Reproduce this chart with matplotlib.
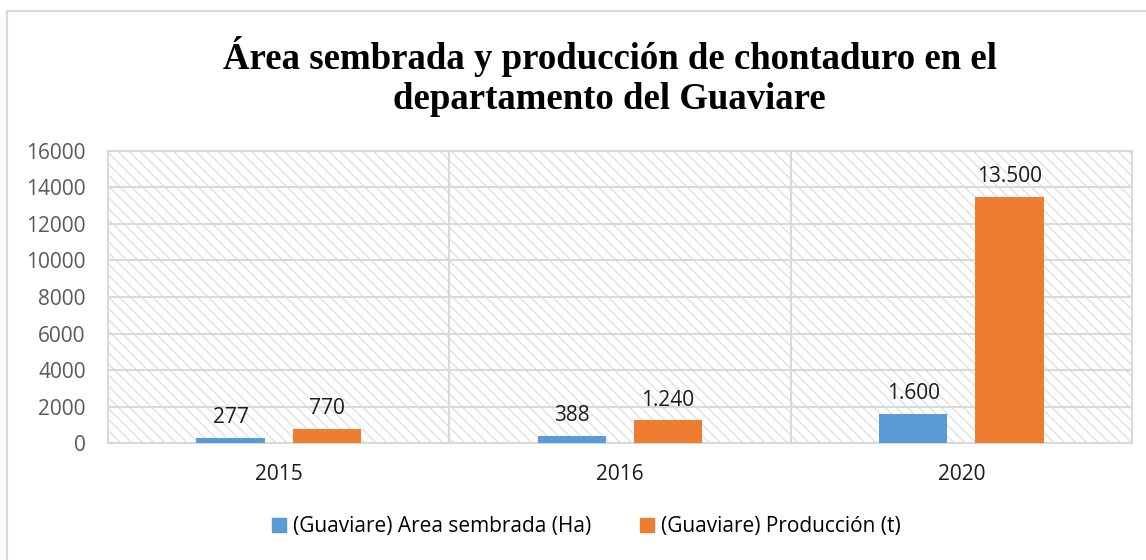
import numpy as np
import matplotlib.pyplot as plt
from matplotlib.patches import Rectangle
from matplotlib.lines import Line2D

# Data
years = ['2015', '2016', '2020']
area_sembrada = [277, 388, 1600]
produccion = [770, 1240, 13500]
area_labels = ['277', '388', '1.600']
prod_labels = ['770', '1.240', '13.500']
series_names = ['(Guaviare) Area sembrada (Ha)', '(Guaviare) Producción (t)']
y_ticks = [0, 2000, 4000, 6000, 8000, 10000, 12000, 14000, 16000]

BLUE = '#5b9bd5'
ORANGE = '#ed7d31'
GRID = '#d9d9d9'
SANS = ['Open Sans', 'DejaVu Sans']


def main():
    plt.rcParams['hatch.linewidth'] = 0.9
    fig = plt.figure(figsize=(11.46, 5.6), dpi=100)
    ax = fig.add_axes([0.0942, 0.2089, 0.8936, 0.5215])

    # hatched plot background
    bg = Rectangle((0, 0), 1, 1, transform=ax.transAxes, facecolor='white',
                   edgecolor='#dedede', hatch='\\\\\\', linewidth=0, zorder=0)
    ax.add_patch(bg)
    ax.patch.set_visible(False)

    x = np.arange(len(years))
    w = 0.2
    off = 0.141
    b1 = ax.bar(x - off, area_sembrada, w, color=BLUE, zorder=3, label=series_names[0])
    b2 = ax.bar(x + off, produccion, w, color=ORANGE, zorder=3, label=series_names[1])

    for bars, labels in ((b1, area_labels), (b2, prod_labels)):
        for rect, lab in zip(bars, labels):
            ax.annotate(lab, (rect.get_x() + rect.get_width() / 2, rect.get_height()),
                        xytext=(0, 7), textcoords='offset points', ha='center', va='bottom',
                        fontsize=15, color='#1a1a1a', family=SANS)

    ax.set_xlim(-0.5, 2.5)
    ax.set_ylim(0, 16000)
    ax.set_yticks(y_ticks)
    ax.set_yticklabels([str(t) for t in y_ticks], family=SANS, fontsize=15, color='#595959')
    ax.set_xticks(x)
    ax.set_xticklabels(years, family=SANS, fontsize=15, color='#1a1a1a')
    ax.tick_params(axis='both', length=0)
    ax.tick_params(axis='y', pad=16)
    ax.tick_params(axis='x', pad=15)

    for t in y_ticks:
        ax.axhline(t, color=GRID, linewidth=1.5, zorder=1)
    for xv in (0.5, 1.5):
        ax.axvline(xv, color=GRID, linewidth=1.5, zorder=1)
    for s in ax.spines.values():
        s.set_color(GRID)
        s.set_linewidth(1.5)

    fig.text(0.532, 0.863, 'Área sembrada y producción de chontaduro en el\ndepartamento del Guaviare',
             ha='center', va='center', fontsize=26.5, fontweight='bold',
             family='Liberation Serif', linespacing=1.2)

    handles = [Line2D([], [], marker='s', linestyle='none', markersize=10, color=BLUE),
               Line2D([], [], marker='s', linestyle='none', markersize=10, color=ORANGE)]
    fig.legend(handles, series_names, loc='center', bbox_to_anchor=(0.511, 0.059), ncol=2,
               frameon=False, prop={'family': SANS, 'size': 15}, handletextpad=0.25,
               columnspacing=2.3, handlelength=0.8)

    # outer chart border (top and left edges visible)
    fig.add_artist(Line2D([7 / 1146, 7 / 1146], [0, 1 - 11 / 560], transform=fig.transFigure,
                          color=GRID, linewidth=1.5))
    fig.add_artist(Line2D([7 / 1146, 1], [1 - 11 / 560, 1 - 11 / 560], transform=fig.transFigure,
                          color=GRID, linewidth=1.5))

    fig.savefig('out.png', dpi=100, facecolor='white')


if __name__ == "__main__":
    main()
